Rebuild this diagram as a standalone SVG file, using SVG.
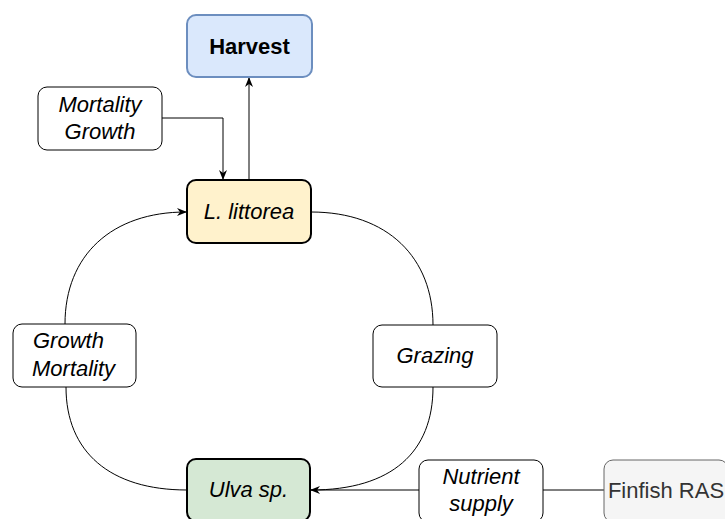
<svg xmlns="http://www.w3.org/2000/svg" width="725" height="519" viewBox="0 0 725 519">
<style>
  .box { fill: #ffffff; stroke: #000000; stroke-width: 1; }
  .main { stroke: #000000; stroke-width: 2; }
  .t { font-family: "Liberation Sans", Arial, Helvetica, sans-serif; font-size: 22px; fill: #000000; text-anchor: middle; }
  .i { font-style: italic; }
  .edge { fill: none; stroke: #000000; stroke-width: 1; }
</style>
<defs>
  <marker id="arr" viewBox="0 0 10 10" refX="9" refY="5" markerWidth="10" markerHeight="10" markerUnits="userSpaceOnUse" orient="auto">
    <path d="M0,1 L10,5 L0,9 L3,5 Z" fill="#000000"/>
  </marker>
</defs>
<rect width="725" height="519" fill="#ffffff"/>
<g id="connectors">
  <path class="edge" d="M249,180 L249,78" marker-end="url(#arr)"/>
  <path class="edge" d="M162,118 L223,118 L223,179" marker-end="url(#arr)"/>
  <path class="edge" d="M65,324 C65,255 112,212 186,212" marker-end="url(#arr)"/>
  <path class="edge" d="M311,212 C388,212 433,258 433,325"/>
  <path class="edge" d="M433,387 C433,452 392,490 311,490" marker-end="url(#arr)"/>
  <path class="edge" d="M419,490 L311,490"/>
  <path class="edge" d="M604,490 L543,490"/>
  <path class="edge" d="M187,490 C110,490 66,452 66,387"/>
</g>
<g id="harvest">
  <rect x="187" y="15" width="125" height="62" rx="9" fill="#dae8fc" stroke="#6c8ebf" stroke-width="2"/>
  <text class="t" x="249.5" y="54" font-weight="bold">Harvest</text>
</g>
<g id="mortality-growth">
  <rect class="box" x="38" y="87" width="124" height="63" rx="9"/>
  <text class="t i" x="100" y="112">Mortality</text>
  <text class="t i" x="100" y="139">Growth</text>
</g>
<g id="littorea">
  <rect class="main" x="187" y="180" width="124" height="63" rx="9" fill="#fff2cc"/>
  <text class="t i" x="249" y="219">L. littorea</text>
</g>
<g id="growth-mortality">
  <rect class="box" x="13" y="324" width="123" height="63" rx="9"/>
  <text class="t i" x="33" y="348" style="text-anchor:start">Growth</text>
  <text class="t i" x="32" y="376" style="text-anchor:start">Mortality</text>
</g>
<g id="grazing">
  <rect class="box" x="373" y="325" width="124" height="62" rx="9"/>
  <text class="t i" x="435" y="363">Grazing</text>
</g>
<g id="ulva">
  <rect class="main" x="187" y="459" width="123" height="62" rx="9" fill="#d5e8d4"/>
  <text class="t i" x="248.5" y="497">Ulva sp.</text>
</g>
<g id="nutrient-supply">
  <rect class="box" x="419" y="460" width="124" height="62" rx="9"/>
  <text class="t i" x="481" y="484">Nutrient</text>
  <text class="t i" x="481" y="511">supply</text>
</g>
<g id="finfish">
  <rect x="604" y="460" width="124" height="62" rx="9" fill="#f5f5f5" stroke="#666666" stroke-width="1"/>
  <text class="t" x="666" y="498" style="fill:#333333">Finfish RAS</text>
</g>
</svg>
